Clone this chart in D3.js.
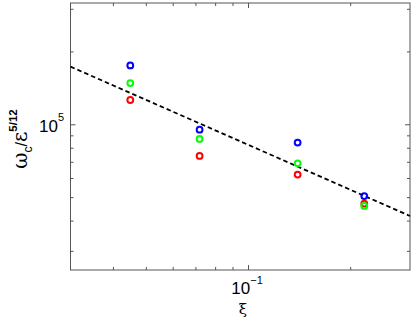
<!DOCTYPE html>
<html><head><meta charset="utf-8">
<script src="https://cdn.jsdelivr.net/npm/d3@7"></script>
<style>html,body{margin:0;padding:0;background:#fff;}svg{display:block;}</style>
</head><body>
<script>
// ---- data ----
const xi = [0.045, 0.072, 0.14, 0.22];
const blueVals = [1.75e5, 9.5e4, 8.4e4, 5.05e4];
const greenVals = [1.48e5, 8.7e4, 6.9e4, 4.6e4];
const redVals = [1.26e5, 7.4e4, 6.2e4, 4.7e4];
const fitX = [0.03, 0.3];
const fitY = [1.73e5, 4.18e4];
const xMajor = [0.1];
const xMinor = [0.04,0.05,0.06,0.07,0.08,0.09,0.2];
const yMajor = [1e5];
const yMinor = [3e4,4e4,5e4,6e4,7e4,8e4,9e4,2e5,3e5];
const xTickLabels = [{base:"10", exp:"\u22121"}];
const yTickLabels = [{base:"10", exp:"5"}];

const W = 414, H = 319;
const L = 70.5, R = 410, T = 3, B = 270;
const svg = d3.select("body").append("svg").attr("width", W).attr("height", H);

const x = d3.scaleLog().domain([0.03, 0.3]).range([L, R]);
const y = d3.scaleLog().domain([2.5e4, 3.17e5]).range([B, T]);

const axisColor = "#555";
// frame
svg.append("rect").attr("x", L).attr("y", T).attr("width", R-L).attr("height", B-T)
  .attr("fill", "none").attr("stroke", axisColor).attr("stroke-width", 1);

function drawAxis(gen, tx, ty) {
  const g = svg.append("g").attr("transform", `translate(${tx},${ty})`).call(gen);
  g.select(".domain").remove();
  g.selectAll(".tick line").attr("stroke", axisColor);
  g.selectAll(".tick text").remove();
  return g;
}
// minor ticks (inward)
drawAxis(d3.axisBottom(x).tickValues(xMinor).tickSize(-3).tickFormat(""), 0, B);
drawAxis(d3.axisTop(x).tickValues(xMinor).tickSize(-3).tickFormat(""), 0, T);
drawAxis(d3.axisLeft(y).tickValues(yMinor).tickSize(-3).tickFormat(""), L, 0);
drawAxis(d3.axisRight(y).tickValues(yMinor).tickSize(-3).tickFormat(""), R, 0);
// major ticks
drawAxis(d3.axisBottom(x).tickValues(xMajor).tickSize(-5).tickFormat(""), 0, B);
drawAxis(d3.axisTop(x).tickValues(xMajor).tickSize(-5).tickFormat(""), 0, T);
drawAxis(d3.axisLeft(y).tickValues(yMajor).tickSize(-5).tickFormat(""), L, 0);
drawAxis(d3.axisRight(y).tickValues(yMajor).tickSize(-5).tickFormat(""), R, 0);

// tick labels
const fontSans = "'Liberation Sans', Arial, sans-serif";
xMajor.forEach((v, i) => {
  const t = svg.append("text").attr("x", x(v) - 1).attr("y", 294)
    .attr("text-anchor", "middle").attr("font-family", fontSans).attr("fill", "#000");
  t.append("tspan").attr("font-size", 17).text(xTickLabels[i].base);
  t.append("tspan").attr("font-size", 11).attr("dy", -10).text(xTickLabels[i].exp);
});
yMajor.forEach((v, i) => {
  const t = svg.append("text").attr("x", 64).attr("y", y(v) + 7.5)
    .attr("text-anchor", "end").attr("font-family", fontSans).attr("fill", "#000");
  t.append("tspan").attr("font-size", 17).text(yTickLabels[i].base);
  t.append("tspan").attr("font-size", 11).attr("dy", -11).text(yTickLabels[i].exp);
});

// axis titles
svg.append("text").attr("x", 243).attr("y", 314).attr("text-anchor", "middle")
  .attr("font-family", "'DejaVu Serif', serif").attr("font-size", 15).text("\u03BE");

const yl = svg.append("text").attr("transform", "translate(26.5,139) rotate(-90)")
  .attr("text-anchor", "middle").attr("font-family", "'DejaVu Serif', serif").attr("fill", "#000");
yl.append("tspan").attr("font-size", 20).text("\u03C9");
yl.append("tspan").attr("font-size", 12).attr("dy", 5).attr("font-family", fontSans).text("c");
yl.append("tspan").attr("font-size", 16).attr("dy", -5).attr("font-family", fontSans).text("/");
yl.append("tspan").attr("font-size", 20).text("\u03B5");
yl.append("tspan").attr("font-size", 11.5).attr("dy", -10).attr("font-weight", "bold").attr("font-family", fontSans).text("5/12");

// fit line
const line = d3.line().x(d => x(d[0])).y(d => y(d[1]));
svg.append("path").datum(fitX.map((v, i) => [v, fitY[i]]))
  .attr("d", line).attr("fill", "none").attr("stroke", "#000")
  .attr("stroke-width", 1.8).attr("stroke-dasharray", "4.5,3");

// markers
const series = [
  {vals: blueVals, color: "#0000ff"},
  {vals: redVals, color: "#ff0000"},
  {vals: greenVals, color: "#00ff00"}
];
series.forEach(s => {
  svg.append("g").selectAll("circle").data(xi.map((v, i) => [v, s.vals[i]]))
    .join("circle").attr("cx", d => x(d[0])).attr("cy", d => y(d[1]))
    .attr("r", 2.9).attr("fill", "none").attr("stroke", s.color).attr("stroke-width", 2);
});
</script>
</body></html>
